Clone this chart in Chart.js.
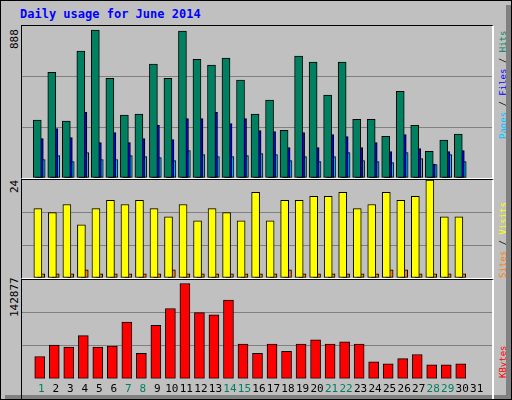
<!DOCTYPE html>
<html>
<head>
<meta charset="utf-8">
<script src="https://cdn.jsdelivr.net/npm/chart.js@4"></script>
<style>
  body { margin: 0; background: #fff; }
  #frame { position: relative; width: 510px; height: 398px; background: #C0C0C0;
           border: 1px solid #000; overflow: hidden; }
  #frame:after { content: ''; position: absolute; right: 0; top: 4px; width: 5px; height: 394px; background: #808080; }
  #shadowB { position: absolute; left: 4px; bottom: 0; width: 506px; height: 4px; background: #808080; }
  .panel { position: absolute; left: 20px; width: 470px; border-top: 1px solid #000;
           border-left: 1px solid #000; border-right: 2px solid #fff; border-bottom: 1px solid #fff; }
  canvas { display: block; }
  .txt { position: absolute; font-family: "DejaVu Sans Mono", monospace; font-size: 11px; white-space: nowrap; line-height: 12px; }
  .rot { transform-origin: 0 0; transform: rotate(-90deg); }
  .side { font-size: 9px; }
</style>
</head>
<body>
<div id="frame">
  <div id="shadowB"></div>
  <div class="txt" style="left:19px;top:7px;font-size:12px;font-weight:bold;color:#0000FF">Daily usage for June 2014</div>
  <div class="panel" style="top:24px;height:152px"><canvas id="c1" width="470" height="152"></canvas></div>
  <div class="panel" style="top:178px;height:98px"><canvas id="c2" width="470" height="98"></canvas></div>
  <div class="panel" style="top:278px;height:120px;border-bottom:none"><canvas id="c3" width="470" height="120"></canvas></div>
  <div class="txt rot" style="left:8px;top:48px">888</div>
  <div class="txt rot" style="left:8px;top:192px">24</div>
  <div class="txt rot" style="left:8px;top:316px">142877</div>
  <div class="txt rot side" style="left:496px;top:138px"><span style="color:#00C0FF">Pages</span> / <span style="color:#0000FF">Files</span> / <span style="color:#008060">Hits</span></div>
  <div class="txt rot side" style="left:496px;top:277px"><span style="color:#FF8000">Sites</span> / <span style="color:#FFFF00">Visits</span></div>
  <div class="txt rot side" style="left:496px;top:377px"><span style="color:#FF0000">KBytes</span></div>
</div>
<script>
// Data
const days = Array.from({ length: 31 }, (_, i) => i + 1);
const dayLabels = days.map(String);
const weekendDays = [1, 7, 8, 14, 15, 21, 22, 28, 29];

const hits  = [338, 618, 332, 741, 864, 583, 367, 373, 665, 583, 858, 694, 659, 700, 572,
               373, 455, 279, 712, 677, 484, 677, 343, 343, 244, 507, 308, 156, 221, 256];
const files = [230, 289, 236, 383, 207, 266, 207, 230, 307, 225, 347, 347, 383, 318, 347,
               277, 271, 178, 266, 178, 254, 242, 178, 207, 154, 254, 172, 82, 154, 160];
const pages = [108, 131, 96, 149, 108, 108, 131, 125, 119, 102, 160, 137, 125, 125, 131,
               143, 137, 102, 125, 96, 125, 149, 102, 96, 90, 149, 113, 78, 137, 96];
const visits = [17, 16, 18, 13, 17, 19, 18, 19, 17, 15, 18, 14, 17, 16, 14,
                21, 14, 19, 19, 20, 20, 21, 17, 18, 21, 19, 20, 24, 15, 15];
const sites  = [1, 1, 1, 2, 1, 1, 1, 1, 1, 2, 1, 1, 1, 1, 1,
                1, 1, 2, 1, 1, 1, 1, 1, 1, 2, 2, 1, 1, 1, 1];
const kbytes = [32200, 48800, 45800, 62400, 45800, 47300, 82000, 36700, 77500, 101600,
                137800, 95600, 92600, 113700, 50300, 36700, 50300, 39700, 50300, 56300,
                50300, 53300, 50300, 24700, 21600, 29200, 35200, 20100, 20100, 21600];

const X_MIN = 0.2, X_MAX = 31.53;
const GRID = '#808080';

// bars are shifted slightly left of the day centre, like Webalizer draws them
function series(values, shift) {
    return values.map((v, i) => ({ x: days[i] + shift, y: v }));
}

function barSet(values, shift, color, width) {
    return {
        data: series(values, shift),
        backgroundColor: color,
        borderColor: '#000',
        borderWidth: 1,
        borderSkipped: false,
        grouped: false,
        barThickness: width
    };
}

function yScale(max, step) {
    return {
        min: 0, max: max,
        border: { display: false },
        grid: { color: ctx => (ctx.tick.value > 0 && ctx.tick.value < max - 1) ? GRID : 'transparent', lineWidth: 1, drawTicks: false },
        ticks: { display: false, stepSize: step },
        afterFit: s => { s.width = 0; }
    };
}

function xScale(show) {
    return {
        type: 'linear', min: X_MIN, max: X_MAX,
        display: show,
        border: { display: false },
        grid: { display: false, drawTicks: false },
        afterBuildTicks: s => { s.ticks = days.map(v => ({ value: v })); },
        ticks: {
            autoSkip: false, padding: 4, maxRotation: 0, minRotation: 0,
            font: { family: 'DejaVu Sans Mono', size: 11 },
            color: ctx => weekendDays.includes(days[ctx.index]) ? '#008060' : '#000',
            callback: (v, i) => dayLabels[i]
        }
    };
}

function makeChart(id, datasets, max, step, showX) {
    return new Chart(document.getElementById(id), {
        type: 'bar',
        data: { datasets: datasets },
        options: {
            responsive: false,
            animation: false,
            layout: { padding: 0 },
            plugins: { legend: { display: false }, tooltip: { enabled: false } },
            scales: { x: xScale(showX), y: yScale(max, step) }
        }
    });
}

makeChart('c1', [
    barSet(hits, -0.27, '#008060', 8),
    barSet(files, -0.13, '#0000FF', 8),
    barSet(pages, 0, '#00C0FF', 8)
], 888, 296, false);

makeChart('c2', [
    barSet(visits, -0.23, '#FFFF00', 8),
    barSet(sites, 0, '#FF8000', 7)
], 24, 8, false);

makeChart('c3', [
    barSet(kbytes, -0.1, '#FF0000', 10)
], 142877, 142877 / 3, true);
</script>
</body>
</html>
